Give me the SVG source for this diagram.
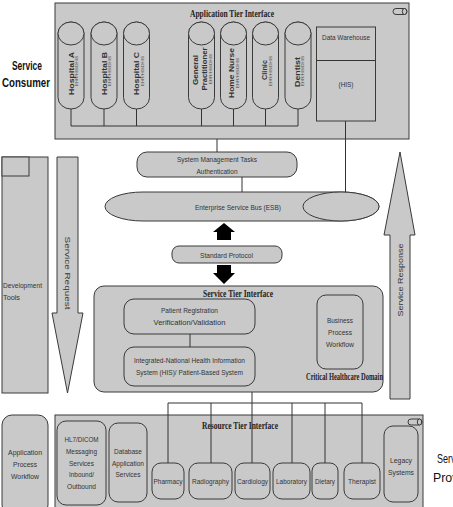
<svg xmlns="http://www.w3.org/2000/svg" xmlns:xlink="http://www.w3.org/1999/xlink" width="453" height="507" viewBox="0 0 453 507">
<style>
.box{fill:#c9c9c9;stroke:#3a3a3a;stroke-width:1}
.t{font-family:"Liberation Sans",Arial,sans-serif;font-size:8px;fill:#333;text-anchor:middle}
.tb{font-weight:bold}
.tl{font-family:"Liberation Sans",Arial,sans-serif;font-size:8px;fill:#333}
.sub{font-family:"Liberation Sans",Arial,sans-serif;font-size:4px;fill:#444;text-anchor:middle}
.title{font-family:"Liberation Serif","Times New Roman",serif;font-size:9.5px;font-weight:bold;fill:#222;text-anchor:middle}
.side{font-family:"Liberation Sans",Arial,sans-serif;font-size:13px;fill:#111}
.ln{fill:none;stroke:#333;stroke-width:1}
.blk{fill:#000;stroke:none}
</style>
<defs>
<g id="cyl">
<path class="box" d="M-13,33.5 A13,11.5 0 0 1 13,33.5 V97.5 A13,11.5 0 0 1 -13,97.5 Z"/>
<ellipse class="box" cx="0" cy="33.5" rx="13" ry="11.5"/>
</g>
<g id="mini">
<rect class="box" x="0" y="0" width="14" height="6" rx="3"/>
<ellipse class="box" cx="11.5" cy="3" rx="2.2" ry="3"/>
</g>
</defs>

<rect width="453" height="507" fill="#fff"/>

<g id="service-consumer-label">
<text class="side" x="27" y="70" text-anchor="middle" font-weight="bold" textLength="30" lengthAdjust="spacingAndGlyphs">Service</text>
<text class="side" x="26" y="87" text-anchor="middle" font-weight="bold" textLength="48" lengthAdjust="spacingAndGlyphs">Consumer</text>
</g>

<g id="service-provider-label">
<text class="side" x="437" y="463" textLength="30" lengthAdjust="spacingAndGlyphs">Service</text>
<text class="side" x="433" y="482" textLength="46" lengthAdjust="spacingAndGlyphs">Provider</text>
</g>

<g id="application-tier">
<rect class="box" x="55" y="3" width="354" height="136"/>
<use xlink:href="#mini" x="393" y="8.5"/>
<text class="title" x="232" y="17" textLength="84" lengthAdjust="spacingAndGlyphs">Application Tier Interface</text>
</g>

<g id="hospital-a">
<use xlink:href="#cyl" x="71"/>
<text class="t tb" transform="translate(73.5,73.5) rotate(-90)" textLength="43" lengthAdjust="spacingAndGlyphs">Hospital A</text>
<text class="sub" transform="translate(78,71) rotate(-90)" textLength="30" lengthAdjust="spacingAndGlyphs">EHR/HIS/DHIS</text>
</g>
<g id="hospital-b">
<use xlink:href="#cyl" x="104"/>
<text class="t tb" transform="translate(106.5,73.5) rotate(-90)" textLength="43" lengthAdjust="spacingAndGlyphs">Hospital B</text>
<text class="sub" transform="translate(111,71) rotate(-90)" textLength="30" lengthAdjust="spacingAndGlyphs">EHR/HIS/DHIS</text>
</g>
<g id="hospital-c">
<use xlink:href="#cyl" x="136.5"/>
<text class="t tb" transform="translate(139,73.5) rotate(-90)" textLength="43" lengthAdjust="spacingAndGlyphs">Hospital C</text>
<text class="sub" transform="translate(143.5,71) rotate(-90)" textLength="30" lengthAdjust="spacingAndGlyphs">EHR/HIS/DHIS</text>
</g>
<g id="general-practitioner">
<use xlink:href="#cyl" x="201.5"/>
<text class="t tb" transform="translate(197.5,70) rotate(-90)" textLength="30" lengthAdjust="spacingAndGlyphs">General</text>
<text class="t tb" transform="translate(206.5,69) rotate(-90)" textLength="43" lengthAdjust="spacingAndGlyphs">Practitioner</text>
<text class="sub" transform="translate(212,69) rotate(-90)" textLength="30" lengthAdjust="spacingAndGlyphs">EHR/HIS/DHIS</text>
</g>
<g id="home-nurse">
<use xlink:href="#cyl" x="233.5"/>
<text class="t tb" transform="translate(234,73) rotate(-90)" textLength="50" lengthAdjust="spacingAndGlyphs">Home Nurse</text>
<text class="sub" transform="translate(239,73) rotate(-90)" textLength="30" lengthAdjust="spacingAndGlyphs">EHR/HIS/DHIS</text>
</g>
<g id="clinic">
<use xlink:href="#cyl" x="265.5"/>
<text class="t tb" transform="translate(266.5,70) rotate(-90)" textLength="20" lengthAdjust="spacingAndGlyphs">Clinic</text>
<text class="sub" transform="translate(271.5,71) rotate(-90)" textLength="30" lengthAdjust="spacingAndGlyphs">EHR/HIS/DHIS</text>
</g>
<g id="dentist">
<use xlink:href="#cyl" x="298"/>
<text class="t tb" transform="translate(299.5,72) rotate(-90)" textLength="30" lengthAdjust="spacingAndGlyphs">Dentist</text>
<text class="sub" transform="translate(304,71) rotate(-90)" textLength="30" lengthAdjust="spacingAndGlyphs">EHR/HIS/DHIS</text>
</g>

<g id="data-warehouse">
<rect class="box" x="316.5" y="27" width="59" height="94"/>
<line class="ln" x1="316.5" y1="60.5" x2="375.5" y2="60.5"/>
<text class="t" x="346" y="39.5" textLength="48" lengthAdjust="spacingAndGlyphs">Data Warehouse</text>
<text class="t" x="346" y="87" textLength="15" lengthAdjust="spacingAndGlyphs">(HIS)</text>
</g>

<g id="system-management">
<rect class="box" x="137" y="152" width="160" height="25" rx="10"/>
<text class="t" x="217" y="162" textLength="80" lengthAdjust="spacingAndGlyphs">System Management Tasks</text>
<text class="t" x="217" y="174" textLength="41" lengthAdjust="spacingAndGlyphs">Authentication</text>
</g>

<g id="esb">
<path class="box" d="M143,192 H341 A38,14.5 0 0 1 341,221 H143 A38,14.5 0 0 1 143,192 Z"/>
<ellipse class="box" cx="341" cy="206.5" rx="38" ry="14.5"/>
<text class="t" x="238" y="210" textLength="86" lengthAdjust="spacingAndGlyphs">Enterprise Service Bus (ESB)</text>
</g>

<g id="standard-protocol">
<rect class="box" x="172" y="246" width="110" height="17" rx="7"/>
<text class="t" x="226.5" y="257.5" textLength="53" lengthAdjust="spacingAndGlyphs">Standard Protocol</text>
</g>

<g id="service-request">
<polygon class="box" points="57,157 78,157 78,313 83,313 67.5,393 52,313 57,313"/>
<text class="t" transform="translate(65,273) rotate(90)" textLength="73" lengthAdjust="spacingAndGlyphs">Service Request</text>
</g>

<g id="service-response">
<polygon class="box" points="400,152 415,235 410,235 410,399 390,399 390,235 384,235"/>
<text class="t" transform="translate(403,280) rotate(-90)" textLength="73" lengthAdjust="spacingAndGlyphs">Service Response</text>
</g>

<g id="development-tools">
<rect class="box" x="2" y="157" width="46" height="236"/>
<rect class="box" x="2" y="157" width="27" height="19"/>
<text class="tl" x="3" y="288" textLength="39" lengthAdjust="spacingAndGlyphs">Development</text>
<text class="tl" x="3" y="300" textLength="17" lengthAdjust="spacingAndGlyphs">Tools</text>
</g>

<g id="service-tier">
<rect class="box" x="94" y="286" width="289" height="106" rx="10"/>
<text class="title" x="238" y="297" textLength="70" lengthAdjust="spacingAndGlyphs">Service Tier Interface</text>
<text class="title" x="344.5" y="380" textLength="77" lengthAdjust="spacingAndGlyphs">Critical Healthcare Domain</text>
</g>

<g id="patient-registration">
<rect class="box" x="124" y="299" width="131" height="35" rx="10"/>
<text class="t" x="189.5" y="313" textLength="57" lengthAdjust="spacingAndGlyphs">Patient Registration</text>
<text class="t" x="189.5" y="325" textLength="72" lengthAdjust="spacingAndGlyphs">Verification/Validation</text>
</g>

<g id="integrated-national-his">
<rect class="box" x="124" y="347" width="131" height="39" rx="10"/>
<text class="t" x="189.5" y="363" textLength="111" lengthAdjust="spacingAndGlyphs">Integrated-National Health Information</text>
<text class="t" x="189.5" y="375" textLength="107" lengthAdjust="spacingAndGlyphs">System (HIS)/ Patient-Based System</text>
</g>

<g id="business-process-workflow">
<rect class="box" x="317" y="295" width="46" height="74" rx="9"/>
<text class="t" x="340" y="323" textLength="26" lengthAdjust="spacingAndGlyphs">Business</text>
<text class="t" x="340" y="335" textLength="24" lengthAdjust="spacingAndGlyphs">Process</text>
<text class="t" x="340" y="347" textLength="28" lengthAdjust="spacingAndGlyphs">Workflow</text>
</g>

<g id="application-process-workflow">
<rect class="box" x="2" y="415" width="46" height="100" rx="10"/>
<text class="t" x="25" y="455" textLength="34" lengthAdjust="spacingAndGlyphs">Application</text>
<text class="t" x="25" y="467" textLength="24" lengthAdjust="spacingAndGlyphs">Process</text>
<text class="t" x="25" y="479" textLength="28" lengthAdjust="spacingAndGlyphs">Workflow</text>
</g>

<g id="resource-tier">
<rect class="box" x="55" y="415" width="368" height="100"/>
<use xlink:href="#mini" x="408" y="419"/>
<text class="title" x="240" y="429" textLength="76" lengthAdjust="spacingAndGlyphs">Resource Tier Interface</text>
</g>

<g id="hl7-dicom">
<rect class="box" x="57" y="421" width="49" height="84" rx="9"/>
<text class="t" x="81.5" y="442" textLength="34" lengthAdjust="spacingAndGlyphs">HL7/DICOM</text>
<text class="t" x="81.5" y="454" textLength="31" lengthAdjust="spacingAndGlyphs">Messaging</text>
<text class="t" x="81.5" y="466" textLength="25" lengthAdjust="spacingAndGlyphs">Services</text>
<text class="t" x="81.5" y="477" textLength="25" lengthAdjust="spacingAndGlyphs">Inbound/</text>
<text class="t" x="81.5" y="489" textLength="29" lengthAdjust="spacingAndGlyphs">Outbound</text>
</g>

<g id="database-application-services">
<rect class="box" x="109" y="423" width="38" height="79" rx="9"/>
<text class="t" x="128" y="454" textLength="28" lengthAdjust="spacingAndGlyphs">Database</text>
<text class="t" x="128" y="466" textLength="32" lengthAdjust="spacingAndGlyphs">Application</text>
<text class="t" x="128" y="477" textLength="25" lengthAdjust="spacingAndGlyphs">Services</text>
</g>

<g id="pharmacy">
<rect class="box" x="152" y="463" width="32" height="36" rx="9"/>
<text class="t" x="168" y="484" textLength="29" lengthAdjust="spacingAndGlyphs">Pharmacy</text>
</g>
<g id="radiography">
<rect class="box" x="189" y="463" width="43" height="36" rx="9"/>
<text class="t" x="210.5" y="484" textLength="37" lengthAdjust="spacingAndGlyphs">Radiography</text>
</g>
<g id="cardiology">
<rect class="box" x="235" y="463" width="35" height="36" rx="9"/>
<text class="t" x="252.5" y="484" textLength="31" lengthAdjust="spacingAndGlyphs">Cardiology</text>
</g>
<g id="laboratory">
<rect class="box" x="273" y="463" width="37" height="36" rx="9"/>
<text class="t" x="291.5" y="484" textLength="31" lengthAdjust="spacingAndGlyphs">Laboratory</text>
</g>
<g id="dietary">
<rect class="box" x="312" y="463" width="26" height="36" rx="8"/>
<text class="t" x="325" y="484" textLength="20" lengthAdjust="spacingAndGlyphs">Dietary</text>
</g>
<g id="therapist">
<rect class="box" x="344" y="463" width="36" height="36" rx="9"/>
<text class="t" x="362" y="484" textLength="28" lengthAdjust="spacingAndGlyphs">Therapist</text>
</g>
<g id="legacy-systems">
<rect class="box" x="384" y="426" width="34" height="76" rx="9"/>
<text class="t" x="401" y="463" textLength="22" lengthAdjust="spacingAndGlyphs">Legacy</text>
<text class="t" x="401" y="475" textLength="26" lengthAdjust="spacingAndGlyphs">Systems</text>
</g>

<g id="connectors">
<path class="ln" d="M71,109 V126 M104,109 V126 M136.5,109 V126 M201.5,109 V126 M233.5,109 V126 M265.5,109 V126 M298,109 V126 M71,126 H298"/>
<path class="ln" d="M345.5,121 V192"/>
<path class="ln" d="M217,139 V152"/>
<path class="ln" d="M242,177 V192"/>
<polygon class="blk" points="224,223 235,232 231,232 231,240 217,240 217,232 213,232"/>
<polygon class="blk" points="217,265 231,265 231,273 235,273 224,284 213,273 217,273"/>
<path class="ln" d="M190,334 V347"/>
<path class="ln" d="M252,392 V463 M168,403 H362 M168,403 V463 M211,403 V463 M292,403 V463 M325,403 V463 M362,403 V463"/>
</g>
</svg>
